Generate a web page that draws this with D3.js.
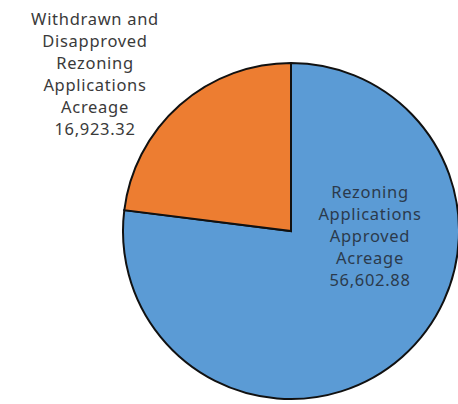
<!doctype html>
<html lang="en">
<head>
<meta charset="UTF-8" />
<script src="https://d3js.org/d3.v7.min.js"></script>
<style>
  body { margin: 0; background: #fff; }
</style>
</head>
<body>
<div id="pie"></div>
<script>
  // data
  const categories = ["Rezoning Applications Approved Acreage", "Withdrawn and Disapproved Rezoning Applications Acreage"]
  const values = [56602.88, 16923.32]
  const labelLines = [
    ["Rezoning", "Applications", "Approved", "Acreage"],
    ["Withdrawn and", "Disapproved", "Rezoning", "Applications", "Acreage"]
  ]
  const colors = ["#5b9bd5", "#ed7d31"]

  const W = 458, H = 404
  const cx = 291, cy = 231, r = 168

  const svg = d3.select("#pie").append("svg")
    .attr("width", W).attr("height", H)

  const fmt = d3.format(",.2f")
  const data = categories.map((c, i) => ({ name: c, value: values[i], lines: labelLines[i], color: colors[i] }))

  const pie = d3.pie().sort(null).value(d => d.value)
  const arc = d3.arc().innerRadius(0).outerRadius(r)

  const g = svg.append("g").attr("transform", `translate(${cx},${cy})`)

  g.selectAll("path")
    .data(pie(data))
    .join("path")
    .attr("d", arc)
    .attr("fill", d => d.data.color)
    .attr("stroke", "#111")
    .attr("stroke-width", 2)
    .attr("stroke-linejoin", "miter")

  // labels: first inside on the right, second outside top-left
  const labelPos = [
    { x: cx + 79, y: 198, color: "#2b3a4c" },
    { x: 95, y: 25, color: "#3a3a3a" }
  ]
  const lineH = 22

  data.forEach((d, i) => {
    const p = labelPos[i]
    const t = svg.append("text")
      .attr("text-anchor", "middle")
      .attr("font-family", "'Noto Sans', sans-serif")
      .attr("font-size", 16.5)
      .attr("letter-spacing", 0.7)
      .attr("fill", p.color)
    d.lines.concat([fmt(d.value)]).forEach((line, k) => {
      t.append("tspan")
        .attr("x", p.x)
        .attr("y", p.y + k * lineH)
        .text(line)
    })
  })
</script>
</body>
</html>
